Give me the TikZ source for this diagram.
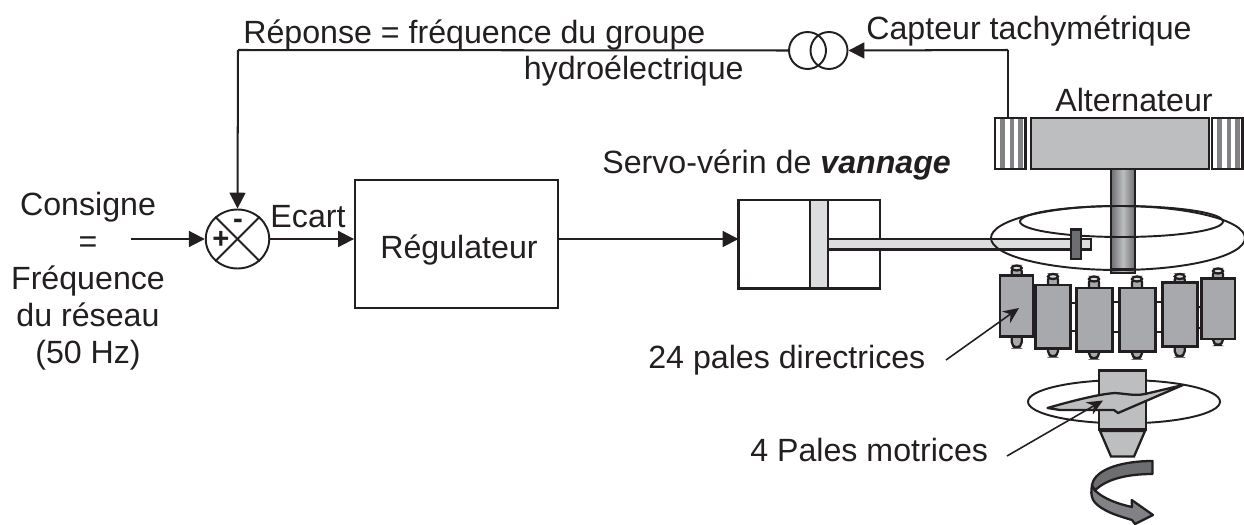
\documentclass[tikz,border=0pt]{standalone}
\usepackage{fontspec}
\setmainfont{Liberation Sans}
\usetikzlibrary{arrows.meta, positioning, shapes.geometric}
\definecolor{gristurbine}{HTML}{BCBEC0}
\definecolor{grispale}{HTML}{A7A9AC}
\definecolor{grisfonce}{HTML}{6D6E71}
\definecolor{grisfleche}{HTML}{808285}
\definecolor{grisclair}{HTML}{DCDDDE}
\definecolor{trait}{HTML}{231F20}
% one guide vane: x1, y1, x2, y2, pin axis, pin top, pin bottom
\newcommand{\pale}[7]{
  \draw[piece,fill=grispale,rounded corners=3pt] (#5-5,#6) rectangle (#5+5,#7);
  \draw[piece,fill=grisclair] (#5,#6+2) ellipse (5 and 2.5);
  \draw[piece,fill=grispale] (#1,#2) rectangle (#3,#4);
}
\tikzset{
  lien/.style={line width=1.15pt,color=trait},
  piece/.style={line width=1.3pt,draw=trait},
  texte/.style={font=\fontsize{18.3}{21.05}\selectfont,text=trait,inner sep=0pt},
  bloc/.style={draw=trait,line width=1.1pt,inner sep=0pt},
}
\begin{document}
\begin{tikzpicture}[x=0.02cm,y=-0.02cm,>={Triangle[length=9pt,width=9pt]}]
\useasboundingbox (0,0) rectangle (1244,524);

\node at (88,281) (CONS) [texte,align=center] {Consigne\\=\\Fréquence\\du réseau\\(50 Hz)};
\coordinate (ENTREE) at (131,239);
\node at (237.5,239) (SUM) [bloc,ellipse,minimum width=1.27cm,minimum height=1.18cm] {};
\draw[lien] (SUM.45) -- (SUM.225);
\draw[lien] (SUM.135) -- (SUM.315);
\node at (221,240) (PLUS) [texte,font=\fontsize{16.6}{20}\bfseries] {+};
\node at (238,224) (MOINS) [texte,font=\fontsize{16.6}{20}\bfseries] {-};
\node at (456.5,244) (REG) [bloc,minimum width=4.06cm,minimum height=2.56cm,draw=trait] {};
\node at (459,258) (REGT) [texte,anchor=base] {Régulateur};
\node at (308,227) (ECART) [texte,anchor=base] {Ecart};
\coordinate (VERIN) at (738.5,239);
\node at (807.5,50.5) (TRA) [bloc,circle,minimum size=0.74cm] {};
\node at (829,50.5) (TRB) [bloc,circle,minimum size=0.74cm] {};
\coordinate (ANGLEH) at (1008,50);
\coordinate (CAPT) at (1008,118);
\coordinate (ANGLEG) at (238,50);

\node at (243,43) (REP) [texte,anchor=base west] {Réponse = fréquence du groupe};
\node at (744,79) (HYD) [texte,anchor=base east] {hydroélectrique};
\node at (866,39.5) (TACHY) [texte,anchor=base west] {Capteur tachymétrique};
\node at (1134,111) (ALT) [texte,anchor=base] {Alternateur};
\node at (602,173.5) (SERVO) [texte,anchor=base west] {Servo-vérin de \textbf{\textit{vannage}}};
\node at (648,368) (PDIR) [texte,anchor=base west] {24 pales directrices};
\node at (750,461) (PMOT) [texte,anchor=base west] {4 Pales motrices};

\draw[lien,->] (ENTREE) -- (SUM.west);
\draw[lien,->] (SUM.east) -- (REG.west |- SUM.east);
\draw[lien,->] (REG.east |- VERIN) -- (VERIN);
\draw[lien,->] (ANGLEH) -- (TRB.east);
\draw[lien] (ANGLEH) -- (CAPT);
\draw[lien] (TRA.west) -- (ANGLEG);
\draw[lien,->] (ANGLEG) -- (SUM.north);

% servo
\draw[piece] (738.5,200) rectangle (880,288.5);
\draw[piece,fill=grisclair] (810,200) rectangle (828,288.5);
\draw[piece,fill=grisclair] (828,239) rectangle (1091,249.5);

% alternator
\draw[piece,fill=gristurbine] (1031,118) rectangle (1209,169);
\foreach \x in {995,1212}{
  \draw[piece] (\x,118) rectangle (\x+30.5,169);
  \foreach \d in {5,14.5,23}
    \fill[grisfleche] (\x+\d,119) rectangle (\x+\d+4.5,168);
}
\draw[piece,left color=grisfonce,right color=grisfonce,middle color=gristurbine] (1111,169) rectangle (1135,273);
\draw[piece,line width=0.6pt] (1111,269) -- (1135,269);
\draw[line width=1.1pt,color=trait] (1118,238) ellipse (127 and 32);
\draw[line width=1.1pt,color=trait] (1121.5,221.5) ellipse (101.5 and 15.5);
\draw[piece,fill=grisfonce] (1071,229.5) rectangle (1081,259);

% guide vanes
\foreach \ya/\yb/\xa/\xb in {309/325/1033/1036,303/331/1070/1077,302/332/1112/1120,302/332/1155/1163,307/328/1197/1202}{
  \draw[lien,line width=0.9pt] (\xa,\ya) -- (\xb,\ya);
  \draw[lien,line width=0.9pt] (\xa,\yb) -- (\xb,\yb);
}
\pale{1000}{275.5}{1033}{336.5}{1016.7}{266}{347.5}
\pale{1035.5}{285}{1070.5}{348.5}{1053}{274.5}{356.5}
\pale{1076.5}{288}{1112.5}{351.5}{1094}{277}{358.5}
\pale{1119.5}{288}{1155.5}{351.5}{1137}{277}{358.5}
\pale{1162.5}{282.5}{1197.5}{346.5}{1179.7}{274.5}{356.5}
\pale{1201.5}{278.5}{1235}{339}{1218}{269}{345}

% runner
\draw[line width=1.1pt,color=trait] (1124,401.7) ellipse (96 and 21.7);
\draw[piece,fill=gristurbine] (1099,370.5) rectangle (1146,430);
\draw[piece,line width=1.8pt] (1099,430) -- (1146,430);
\draw[piece,fill=gristurbine] (1100,431) -- (1145,431) -- (1134,456.5) -- (1111,456.5) -- cycle;
\draw[piece,fill=gristurbine,line join=round] (1047.5,408) .. controls (1075,400) and (1100,394) .. (1115,393)
  .. controls (1128,394) and (1135,396) .. (1145,394) -- (1183,385) -- (1118,413) -- (1114,410) -- (1060,410) -- cycle;

% rotation arrow
\draw[piece,fill=grisfleche,line join=round] (1092,485) .. controls (1090,497) and (1092,503) .. (1105,510)
  .. controls (1112,514) and (1122,517) .. (1132,520) -- (1135,524) -- (1153,515) -- (1131.7,500) -- (1132,507)
  .. controls (1118,504) and (1104,499) .. (1095,490.5) -- cycle;
\draw[piece,fill=grisfonce,line join=round] (1152.5,461) .. controls (1125,461) and (1095,468) .. (1092,485) -- (1095,490.5)
  .. controls (1105,480) and (1125,474) .. (1152.5,474) -- cycle;

% leaders
\coordinate (PDIRB) at (1019,308);
\coordinate (PMOTB) at (1103,400.5);
\draw[lien,line width=0.9pt,-{Stealth[length=9pt,width=8pt]}] (946,360) -- (PDIRB);
\draw[lien,line width=0.9pt,-{Stealth[length=9pt,width=8pt]}] (1007,456) -- (PMOTB);
\end{tikzpicture}
\end{document}
